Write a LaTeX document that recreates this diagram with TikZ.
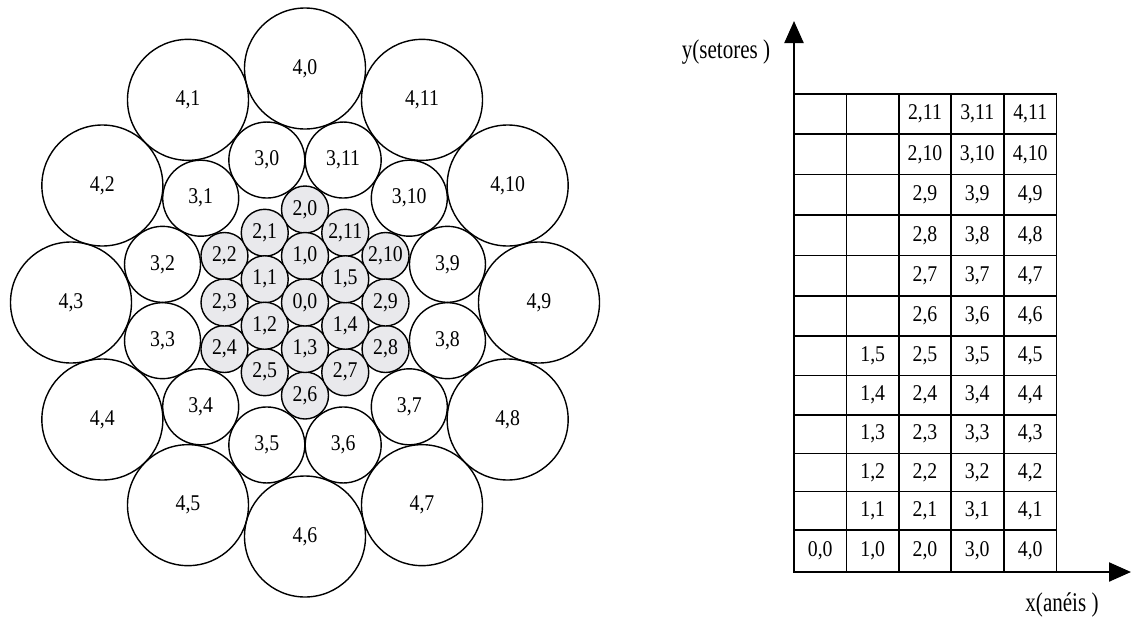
\documentclass[tikz,border=0pt]{standalone}
\usepackage{fontspec}
\setmainfont{Liberation Serif}
\usetikzlibrary{calc,arrows.meta}
\definecolor{innergray}{RGB}{233,233,236}
\newcommand{\condtxt}[1]{\scalebox{0.88}[1]{#1}}
\newcommand{\axtxt}[1]{\scalebox{0.78}[1]{#1}}
\tikzset{
  lbl/.style={font=\fontsize{22.5}{27}\selectfont},
  ring/.style={circle,draw,line width=1.4pt,inner sep=0pt,lbl},
  big/.style={ring,minimum size=121pt},
  mid/.style={ring,minimum size=76pt},
  small/.style={ring,fill=innergray,minimum size=47pt},
  cell/.style={draw,line width=1.6pt,inner sep=0pt,lbl,minimum width=52.5pt},
  axis/.style={line width=2.2pt,-{Triangle[length=22pt,width=19pt]}},
  axlabel/.style={font=\fontsize{27}{31}\selectfont,inner sep=0pt},
}
\begin{document}
\begin{tikzpicture}[x=1pt,y=-1pt]
\useasboundingbox (0,0) rectangle (1132,624);
\coordinate (C) at (305,302.5);
% ring 4
\foreach \j in {0,...,11}{
  \node[big] (c4-\j) at ($(C)+({-(90+30*\j)}:234)$) {\condtxt{4,\j}};
}
% ring 3
\foreach \j in {0,...,11}{
  \node[mid] (c3-\j) at ($(C)+({-(105+30*\j)}:147.5)$) {\condtxt{3,\j}};
}
% ring 2
\foreach \j in {0,2,...,10}{
  \node[small] (c2-\j) at ($(C)+({-(90+30*\j)}:93)$) {\condtxt{2,\j}};
}
\foreach \j in {1,3,...,11}{
  \node[small] (c2-\j) at ($(C)+({-(90+30*\j)}:80.5)$) {\condtxt{2,\j}};
}
% ring 1
\foreach \j in {0,...,5}{
  \node[small] (c1-\j) at ($(C)+({-(90+60*\j)}:46.5)$) {\condtxt{1,\j}};
}
\node[small] (c0-0) at (C) {\condtxt{0,0}};

% grid
\foreach \r/\ytop/\ybot in {0/530/572, 1/491.5/530, 2/453.5/491.5, 3/415/453.5, 4/375.5/415, 5/336/375.5, 6/296/336, 7/255.5/296, 8/215/255.5, 9/174.5/215, 10/134/174.5, 11/94/134}{
  \foreach \c/\xl/\xr in {0/794/846.5, 1/846.5/899, 2/899/951, 3/951/1003.5, 4/1003.5/1057}{
    \pgfmathtruncatemacro{\show}{(\c==0 && \r==0) || (\c==1 && \r<6) || (\c>1) ? 1 : 0}
    \ifnum\show=1
      \node[cell,minimum height={\ybot-\ytop}] (g-\c-\r) at ({(\xl+\xr)/2},{(\ytop+\ybot)/2}) {\condtxt{\c,\r}};
    \else
      \node[cell,minimum height={\ybot-\ytop}] (g-\c-\r) at ({(\xl+\xr)/2},{(\ytop+\ybot)/2}) {};
    \fi
  }
}
\coordinate (O) at (794,572);
\coordinate (Ytip) at (794,21);
\coordinate (Xtip) at (1131,572);
\draw[axis] (O) -- (Ytip);
\draw[axis] (O) -- (Xtip);
\node[axlabel] (ylab) at (726,52) {\axtxt{y(setores )}};
\node[axlabel] (xlab) at (1062,605) {\axtxt{x(anéis )}};
\end{tikzpicture}
\end{document}
